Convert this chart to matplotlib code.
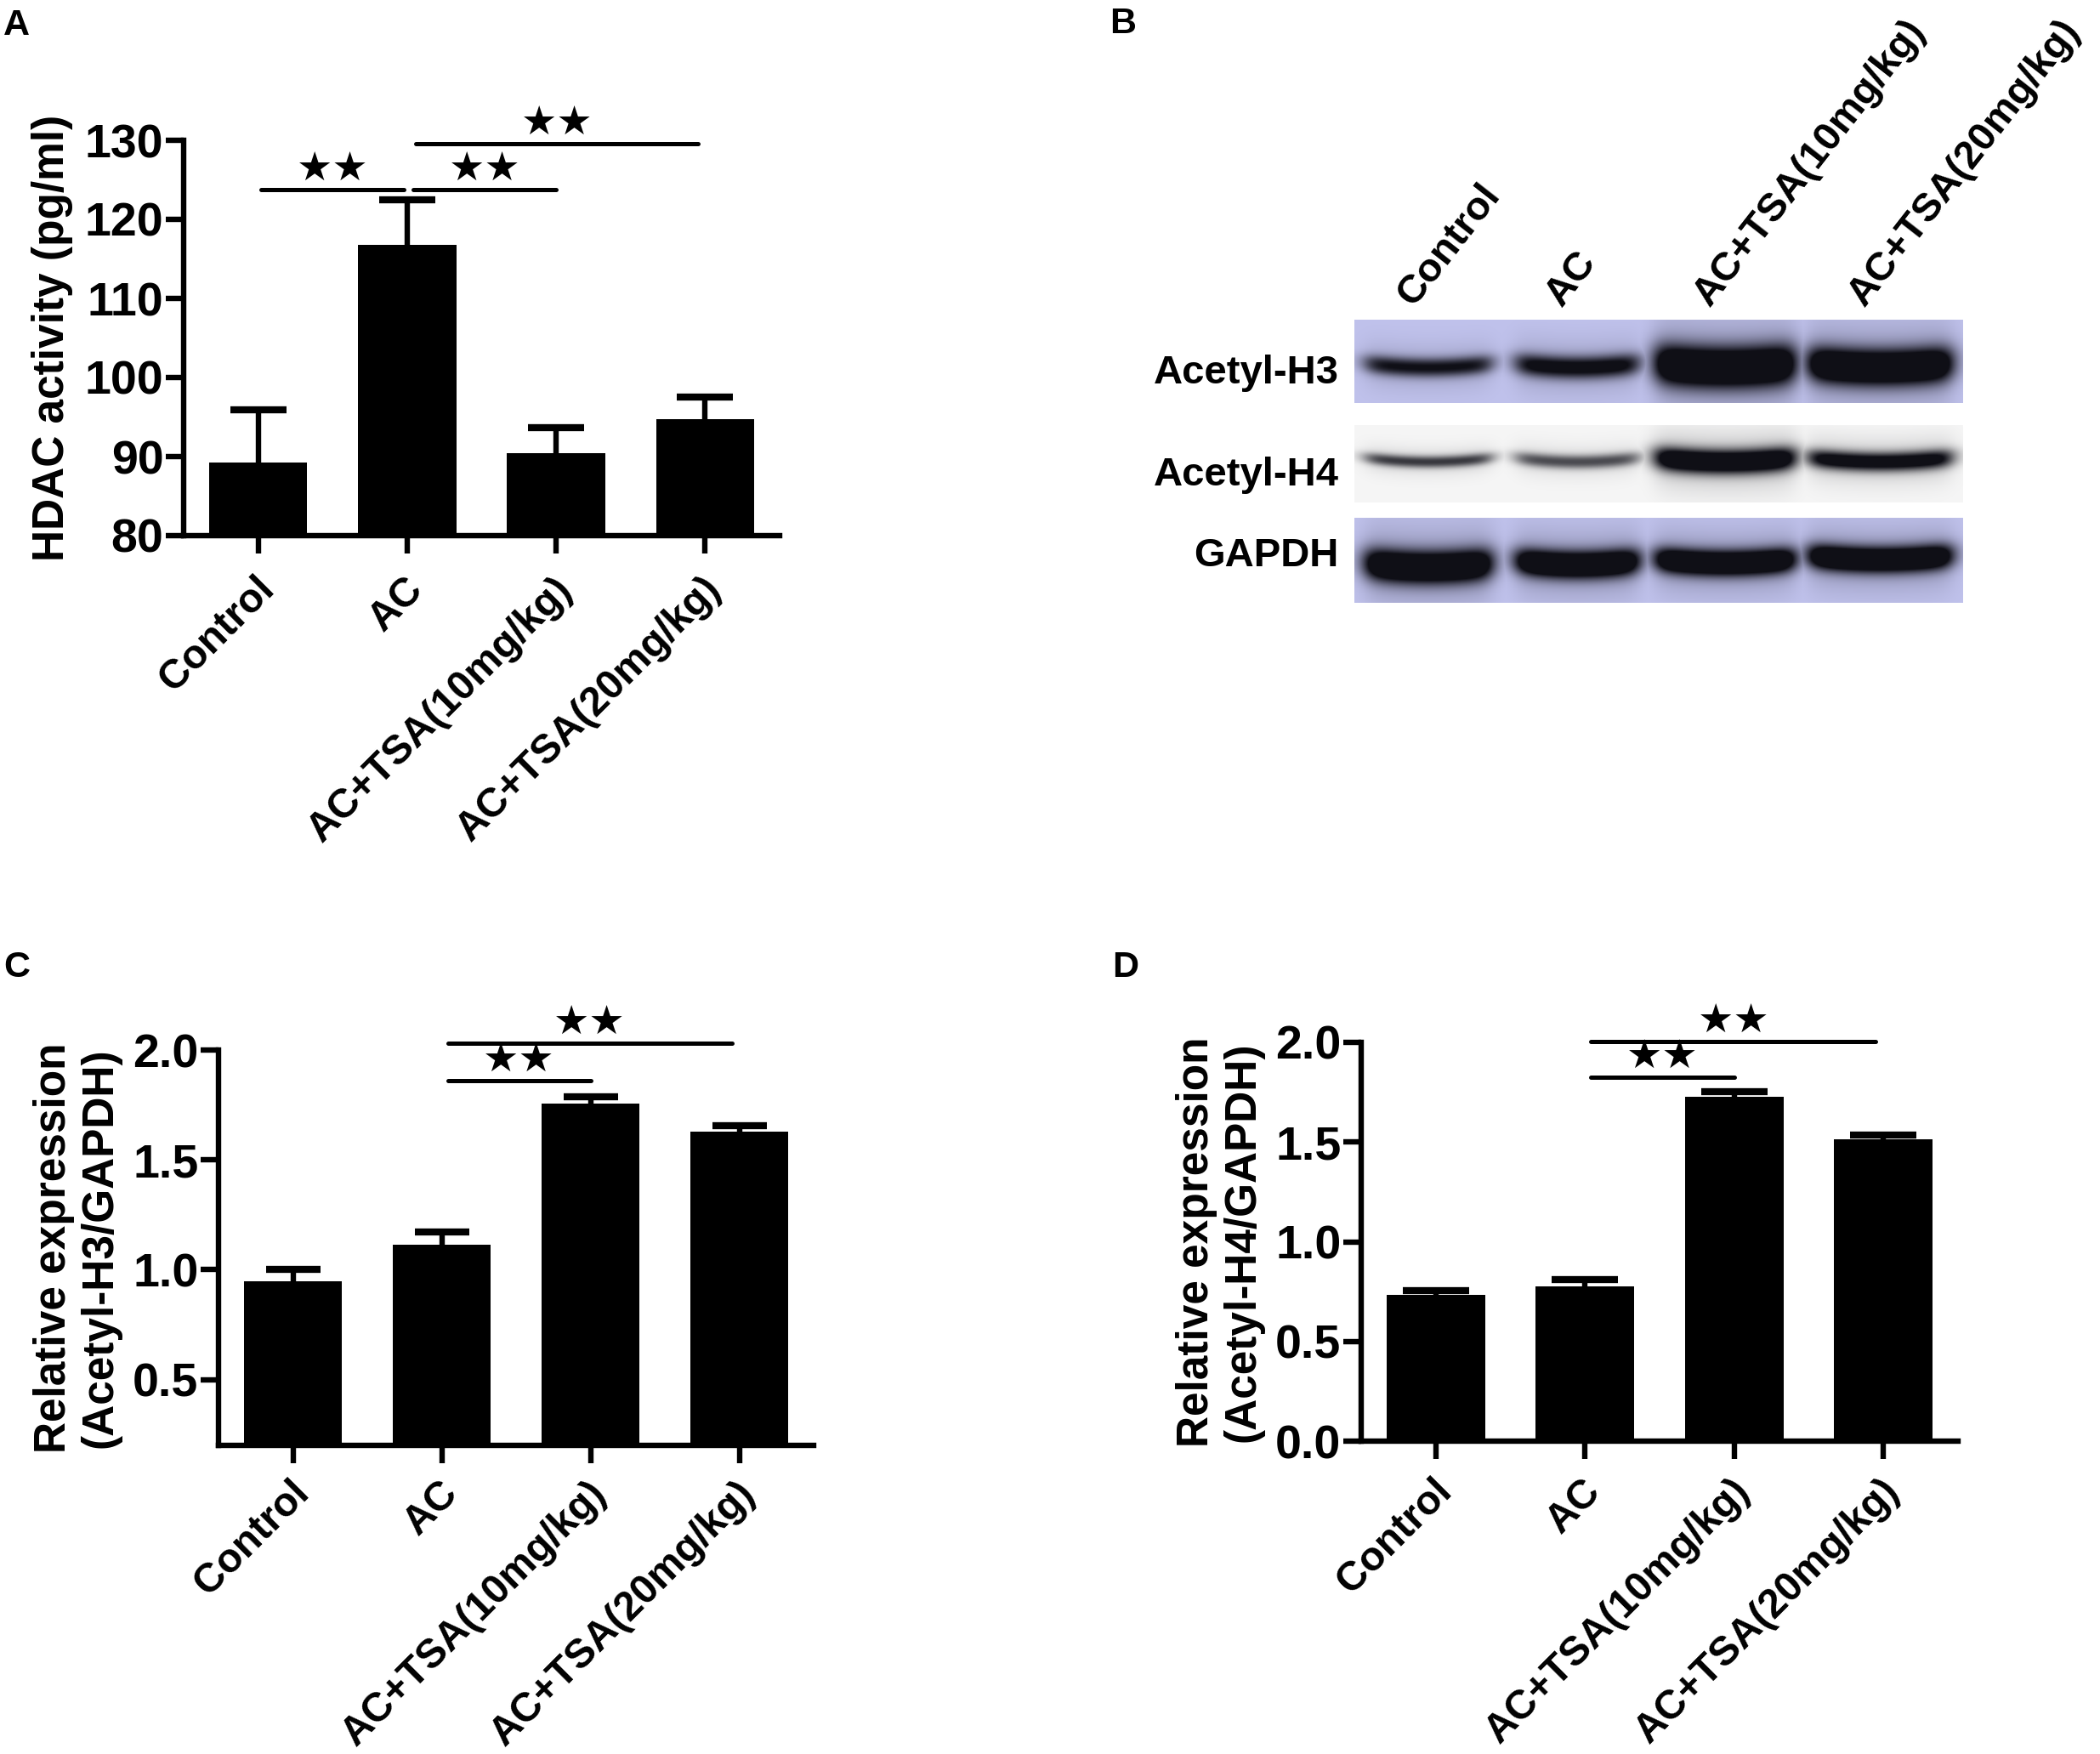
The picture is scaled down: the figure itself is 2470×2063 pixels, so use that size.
import numpy as np
import matplotlib
matplotlib.use("Agg")
import matplotlib.pyplot as plt
from matplotlib import font_manager
from matplotlib.transforms import ScaledTranslation

# ---------------- data ----------------
groups = ["Control", "AC", "AC+TSA(10mg/kg)", "AC+TSA(20mg/kg)"]

hdac_mean = [89.2, 116.8, 90.4, 94.7]
hdac_sem = [6.7, 5.7, 3.3, 2.8]

h3_mean = [0.948, 1.115, 1.757, 1.629]
h3_sem = [0.054, 0.056, 0.029, 0.027]

h4_mean = [0.733, 0.777, 1.725, 1.515]
h4_sem = [0.022, 0.035, 0.027, 0.019]

# significance brackets: (start group, end group, height)
sig_a = [(0.02, 0.98, 123.8), (1.04, 2.0, 123.8), (1.06, 2.95, 129.6)]
sig_c = [(1.04, 2.0, 1.86), (1.04, 2.95, 2.03)]
sig_d = [(1.04, 2.0, 1.826), (1.04, 2.95, 2.003)]

# western blot lanes: relative band strength / thickness per lane
blot_rows = ["Acetyl-H3", "Acetyl-H4", "GAPDH"]
h3_band = [0.62, 0.7, 1.0, 1.0]
h3_thick = [11, 13, 24, 21]
h4_band = [0.5, 0.45, 0.9, 0.75]
h4_thick = [7, 8, 14, 11]
gapdh_band = [1.0, 1.0, 1.0, 1.0]
gapdh_thick = [19, 16, 15, 15]
band_halfw = [74, 72, 82, 84]

# ---------------- fonts ----------------
names = {f.name for f in font_manager.fontManager.ttflist}
sans = "Liberation Sans" if "Liberation Sans" in names else "DejaVu Sans"
narrow = "Liberation Sans Narrow" if "Liberation Sans Narrow" in names else sans
plt.rcParams["font.family"] = [sans, "DejaVu Sans"]
plt.rcParams["font.weight"] = "bold"

W, H = 2470, 2063
DPI = 100
fig = plt.figure(figsize=(W / DPI, H / DPI), dpi=DPI)

LW = 4.6


def px_rect(left, top, right, bottom):
    return [left / W, 1 - bottom / H, (right - left) / W, (bottom - top) / H]


def bar_panel(rect, means, sems, ylim, yticks, ytl, ylabel, sig, capsize=24, xpad=14):
    ax = fig.add_axes(rect)
    x = np.arange(len(groups))
    ax.bar(x, means, width=0.66, color="black", zorder=2)
    eb = ax.errorbar(x, means, yerr=[np.zeros(len(sems)), sems], fmt="none",
                     ecolor="black", elinewidth=LW, capsize=capsize,
                     capthick=LW * 1.3, zorder=3)
    eb[1][0].set_visible(False)  # one-sided error bars
    ax.set_xlim(-0.5, 3.5)
    ax.set_ylim(*ylim)
    ax.spines["top"].set_visible(False)
    ax.spines["right"].set_visible(False)
    for s in ("left", "bottom"):
        ax.spines[s].set_linewidth(LW)
    ax.set_yticks(yticks)
    ax.set_yticklabels(ytl, fontfamily=narrow, fontweight="bold", fontsize=40)
    ax.tick_params(axis="y", length=15, width=LW, pad=2)
    ax.tick_params(axis="x", length=15, width=LW, pad=xpad)
    ax.set_xticks(x)
    ax.set_xticklabels(groups, rotation=45, ha="right", va="top",
                       rotation_mode="anchor", fontsize=34.5, fontweight="bold")
    off = ScaledTranslation(-4 / DPI, 0, fig.dpi_scale_trans)
    for lab in ax.get_xticklabels():
        lab.set_transform(lab.get_transform() + off)
    ax.set_ylabel(ylabel, fontsize=37, fontweight="bold", labelpad=10,
                  linespacing=1.15)
    for x0, x1, yv in sig:
        ax.plot([x0, x1], [yv, yv], color="black", lw=3.6, clip_on=False,
                solid_capstyle="round", zorder=4)
        ax.text((x0 + x1) / 2, yv, "\u2605\u2605", ha="center", va="bottom",
                fontsize=34, fontfamily="DejaVu Sans", clip_on=False)
    return ax


# ---------------- panel B (western blot) ----------------
axb = fig.add_axes([0, 0, 1, 1])
axb.set_xlim(0, W)
axb.set_ylim(H, 0)
axb.axis("off")

lane_x = np.array([87, 262, 436, 618])


def strip(width, height, strength, thick, yc_frac, bg, tilt=None):
    xx, yy = np.meshgrid(np.arange(width), np.arange(height))
    dark = np.zeros((height, width))
    for i in range(4):
        yc = height * yc_frac + (tilt[i] if tilt is not None else 0)
        hw = band_halfw[i]
        sx = 0.5 * (np.tanh((xx - (lane_x[i] - hw)) / 14) - np.tanh((xx - (lane_x[i] + hw)) / 14))
        # slight curvature of band (smile)
        curve = 5 * ((xx - lane_x[i]) / hw) ** 2
        sy = np.exp(-np.abs((yy - yc + curve) / thick[i]) ** 2.2)
        halo = 0.25 * np.exp(-((yy - yc + curve) / (thick[i] * 2.4)) ** 2)
        d = strength[i] * sx * (sy * 1.4 + halo)
        dark = np.maximum(dark, d)
    dark = np.clip(dark, 0, 1)
    bg = np.array(bg) / 255.0
    ink = np.array([0.06, 0.06, 0.09])
    img = bg[None, None, :] * (1 - dark[..., None]) + ink[None, None, :] * dark[..., None]
    return img


bx0, bx1 = 1593, 2309
img_h3 = strip(bx1 - bx0, 98, h3_band, h3_thick, 0.57, (192, 194, 236))
img_h4 = strip(bx1 - bx0, 91, h4_band, h4_thick, 0.47, (246, 246, 246))
img_g = strip(bx1 - bx0, 100, gapdh_band, gapdh_thick, 0.55, (192, 194, 236),
              tilt=[3, 0, -2, -6])
axb.imshow(img_h3, extent=(bx0, bx1, 474, 376), aspect="auto", interpolation="bilinear")
axb.imshow(img_h4, extent=(bx0, bx1, 591, 500), aspect="auto", interpolation="bilinear")
axb.imshow(img_g, extent=(bx0, bx1, 709, 609), aspect="auto", interpolation="bilinear")
axb.set_xlim(0, W)
axb.set_ylim(H, 0)

for lab, yv in zip(blot_rows, [439, 559, 654]):
    axb.text(1575, yv, lab, ha="right", va="center", fontsize=34, fontweight="bold")
for i, g in enumerate(groups):
    axb.text(bx0 + lane_x[i] - 18, 362, g, rotation=52, rotation_mode="anchor",
             ha="left", va="baseline", fontsize=34, fontweight="bold")

# ---------------- bar panels ----------------
bar_panel(px_rect(216, 165, 917, 630), hdac_mean, hdac_sem, (80, 130),
          [80, 90, 100, 110, 120, 130], ["80", "90", "100", "110", "120", "130"],
          "HDAC activity (pg/ml)", sig_a)
bar_panel(px_rect(257, 1235, 957, 1700), h3_mean, h3_sem, (0.2, 2.0),
          [0.5, 1.0, 1.5, 2.0], ["0.5", "1.0", "1.5", "2.0"],
          "Relative expression\n(Acetyl-H3/GAPDH)", sig_c, capsize=23, xpad=9)
bar_panel(px_rect(1601, 1226, 2303, 1695), h4_mean, h4_sem, (0.0, 2.0),
          [0.0, 0.5, 1.0, 1.5, 2.0], ["0.0", "0.5", "1.0", "1.5", "2.0"],
          "Relative expression\n(Acetyl-H4/GAPDH)", sig_d, capsize=28, xpad=11)

for letter, xp, yp in [("A", 4, 10), ("B", 1305, 8), ("C", 4, 1118), ("D", 1308, 1118)]:
    fig.text(xp / W, 1 - yp / H, letter, ha="left", va="top", fontsize=31,
             fontweight="bold")

fig.savefig("out.png", dpi=DPI, facecolor="white")
